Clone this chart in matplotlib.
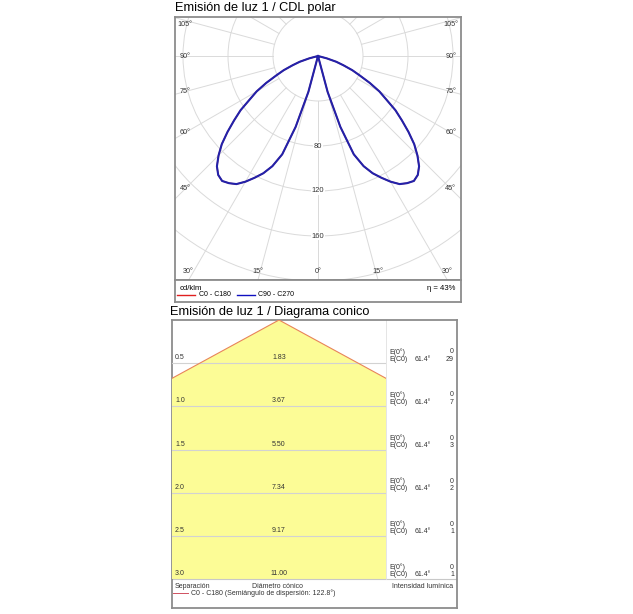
import numpy as np
import matplotlib
matplotlib.use('Agg')
import matplotlib.pyplot as plt
from matplotlib.patches import Circle, Polygon

plt.rcParams['font.family'] = ['Liberation Sans', 'DejaVu Sans']

W, H = 633, 614

# ── Polar data (cd/klm) ───────────────────────────────────────────────────────
gamma = [0, 2.5, 5, 7.5, 10, 12.5, 15, 17.5, 20, 22.5, 25, 27.5, 30, 32.5,
         35, 37.5, 40, 42.5, 45, 47.5, 50, 52.5, 55, 57.5, 60, 62.5, 65,
         67.5, 70, 72.5, 75, 77.5, 80, 82.5, 85, 87.5, 90]
c90_c270 = [0, 0, 0, 0, 0, 0, 33, 66, 93, 106, 115, 122, 129, 135,
            138, 140, 138, 133, 125, 116, 105, 94, 84, 72, 63, 52, 41,
            33, 24, 17, 8, 0, 0, 0, 0, 0, 0]
c0_c180 = list(c90_c270)          # same curve, hidden under C90 - C270
rings = [40, 80, 120, 160, 200]
ring_labels = [80, 120, 160]
side_angles = [45, 60, 75, 90, 105]
bottom_angles = [0, 15, 30]
eta = 43

# ── Cone data ─────────────────────────────────────────────────────────────────
heights = [0.5, 1.0, 1.5, 2.0, 2.5, 3.0]
diameters = [1.83, 3.67, 5.50, 7.34, 9.17, 11.00]
e_axis = [0, 0, 0, 0, 0, 0]
e_c0 = [29, 7, 3, 2, 1, 1]
half_angle = 61.4
full_angle = 122.8

FRAME = '#8c8c8c'
GRID = '#dadada'
SMALL = 5.0


def box(x0, y0, x1, y1):
    """Pixel box (top-left origin) -> figure fraction rect."""
    return [x0 / W, 1 - y1 / H, (x1 - x0) / W, (y1 - y0) / H]


def frame(ax, lw=1.3):
    ax.set_xticks([])
    ax.set_yticks([])
    for s in ax.spines.values():
        s.set_color(FRAME)
        s.set_linewidth(lw)


fig = plt.figure(figsize=(W / 100, H / 100), dpi=100)

# ── Top: CDL polar ────────────────────────────────────────────────────────────
scale = 1.125   # px per cd/klm
cx, cy = 318, 56
x0, x1, y0, y1 = 175, 461, 17, 280
ax = fig.add_axes(box(x0, y0, x1, y1))
ax.set_xlim((x0 - cx) / scale, (x1 - cx) / scale)
ax.set_ylim(-(y1 - cy) / scale, (cy - y0) / scale)
frame(ax)

for rr in rings:
    ax.add_patch(Circle((0, 0), rr, fill=False, ec=GRID, lw=0.7, zorder=1))
for a in range(0, 181, 15):
    t = np.radians(a)
    for side in (-1, 1):
        ax.plot([side * rings[0] * np.sin(t), side * 320 * np.sin(t)],
                [-rings[0] * np.cos(t), -320 * np.cos(t)],
                color=GRID, lw=0.7, zorder=1)

for rv in ring_labels:
    ax.text(0, -rv, str(rv), ha='center', va='center', fontsize=5.4,
            color='#333333', zorder=2,
            bbox=dict(fc='white', ec='none', pad=0.6))

xmax = (x1 - cx) / scale - 9
ytop = (cy - y0) / scale - 7
ybot = -(y1 - cy) / scale
for a in side_angles:
    yy = min(-xmax / np.tan(np.radians(a)), ytop)
    for side in (-1, 1):
        ax.text(side * xmax, yy, f'{a}°', ha='center', va='center',
                fontsize=5.2, color='#333333')
for a in bottom_angles:
    xx = min(-ybot * np.tan(np.radians(a)), xmax)
    for side in ((-1, 1) if a else (1,)):
        ax.text(side * xx, ybot + 7.5, f'{a}°', ha='center', va='center',
                fontsize=5.2, color='#333333')

g = np.radians(gamma)
for vals, col, lw in ((c0_c180, '#e02020', 1.0), (c90_c270, '#2222aa', 1.5)):
    r = np.array(vals, dtype=float)
    xs = np.concatenate([-(r * np.sin(g))[::-1], r * np.sin(g)])
    ys = np.concatenate([-(r * np.cos(g))[::-1], -r * np.cos(g)])
    ax.plot(xs, ys, color=col, lw=lw, zorder=3, solid_joinstyle='round')

# legend strip
axl = fig.add_axes(box(x0, y1, x1, 302))
axl.set_xlim(x0, x1)
axl.set_ylim(302, y1)
frame(axl)
axl.text(180, 288, 'cd/klm', fontsize=5.6, va='center', ha='left')
axl.text(455, 288, f'η = {eta}%', fontsize=5.6, va='center', ha='right')
axl.plot([177, 195], [295, 295], color='#e02020', lw=1.0)
axl.text(199, 295, 'C0 - C180', fontsize=SMALL, va='center')
axl.plot([237, 255], [295, 295], color='#1010c0', lw=1.0)
axl.text(258, 295, 'C90 - C270', fontsize=SMALL, va='center')

fig.text(175 / W, 1 - 8 / H, 'Emisión de luz 1 / CDL polar',
         fontsize=9.2, va='center', ha='left')

# ── Bottom: cone diagram ──────────────────────────────────────────────────────
bx0, bx1, by0, by1, by2, bxm = 172, 457, 320, 579, 608, 386
axf = fig.add_axes(box(bx0, by0, bx1, by2))
axf.set_xlim(bx0, bx1)
axf.set_ylim(by2, by0)
frame(axf)
axf.plot([bx0, bx1], [by1, by1], color='#c8c8c8', lw=0.8)
axf.plot([bxm, bxm], [by0, by1], color='#e0e0e0', lw=0.6)

axc = fig.add_axes(box(bx0, by0, bxm, by1))
mpp = heights[-1] / (by1 - by0)          # metres per pixel
half_w = (bxm - bx0) / 2 * mpp
axc.set_xlim(-half_w, half_w)
axc.set_ylim(heights[-1], 0)
axc.axis('off')
tn = np.tan(np.radians(half_angle))
hm = heights[-1] * 1.2
axc.add_patch(Polygon([(0, 0), (-hm * tn, hm), (hm * tn, hm)],
                      closed=True, fc='#fcfc96', ec='none', zorder=1))
axc.plot([-hm * tn, 0, hm * tn], [hm, 0, hm], color='#e8845a', lw=0.8, zorder=3)
for h, d in zip(heights, diameters):
    axc.axhline(h, color='#d2d2d2', lw=0.8, zorder=2)
    axc.text(-half_w + 3 * mpp, h - 5.5 * mpp, f'{h:.1f}', fontsize=SMALL,
             ha='left', va='center', color='#333333', zorder=4)
    axc.text(0, h - 5.5 * mpp, f'{d:.2f}', fontsize=SMALL,
             ha='center', va='center', color='#333333', zorder=4)

axr = fig.add_axes(box(bxm, by0, bx1, by1))
axr.set_xlim(bxm, bx1)
axr.set_ylim(heights[-1], 0)
axr.axis('off')
for h, e0, ec in zip(heights, e_axis, e_c0):
    ya, yb = h - 11.5 * mpp, h - 4 * mpp
    axr.text(389, ya, 'E(0°)', fontsize=SMALL, va='center', color='#333333')
    axr.text(389, yb, 'E(C0)', fontsize=SMALL, va='center', color='#333333')
    axr.text(415, yb, f'{half_angle}°', fontsize=SMALL, va='center', color='#333333')
    axr.text(454, ya, str(e0), fontsize=SMALL, va='center', ha='right', color='#333333')
    axr.text(454, yb, str(ec), fontsize=SMALL, va='center', ha='right', color='#333333')

axf.text(175, 586, 'Separación', fontsize=SMALL, va='center', color='#333333')
axf.text(278, 586, 'Diámetro cónico', fontsize=SMALL, va='center', ha='center', color='#333333')
axf.text(453, 586, 'Intensidad lumínica', fontsize=SMALL, va='center', ha='right', color='#333333')
axf.plot([173, 188], [593, 593], color='#d05060', lw=0.7)
axf.text(191, 593, f'C0 - C180 (Semiángulo de dispersión: {full_angle}°)',
         fontsize=SMALL, va='center', color='#333333')

fig.text(170 / W, 1 - 312 / H, 'Emisión de luz 1 / Diagrama conico',
         fontsize=9.2, va='center', ha='left')

fig.savefig('out.png', dpi=100)
